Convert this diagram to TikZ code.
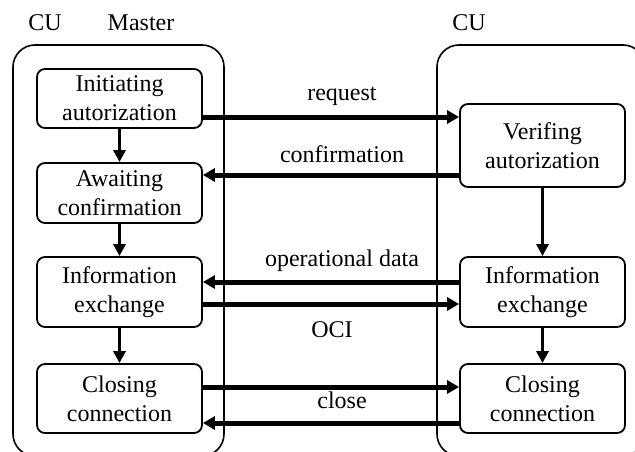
\documentclass[tikz,border=0pt]{standalone}
\usepackage{fontspec}
\setmainfont{Liberation Serif}
\usetikzlibrary{arrows.meta}
\begin{document}
\begin{tikzpicture}[x=1pt,y=-1pt,
  stbox/.style={draw, line width=1.8pt, rounded corners=8pt, minimum width=165pt,
    align=center, inner sep=0pt, font=\fontsize{24}{29}\selectfont},
  cont/.style={draw, line width=1.6pt, rounded corners=22pt},
  varrow/.style={line width=3pt, -{Triangle[length=12pt,width=12pt]}},
  harrow/.style={line width=5pt, -{Triangle[length=12pt,width=13pt]}},
  lbl/.style={anchor=base, inner sep=0pt, font=\fontsize{24}{29}\selectfont}
]
\useasboundingbox (0,0) rectangle (635,452);
\begin{scope}
  \clip (0,0) rectangle (635,452);
  \draw[cont] (13,45) rectangle (224,456);
  \draw[cont] (437,45) rectangle (645,456);
\end{scope}

\node[lbl] (cu1) at (45,31) {CU};
\node[lbl] (master) at (141,31) {Master};
\node[lbl] (cu2) at (469,31) {CU};

\node[stbox, minimum height=59pt] (L1) at (119.5,98.5) {Initiating\\autorization};
\node[stbox, minimum height=60pt] (L2) at (119.5,193) {Awaiting\\confirmation};
\node[stbox, minimum height=70pt] (L3) at (119.5,292) {Information\\exchange};
\node[stbox, minimum height=69pt] (L4) at (119.5,398.5) {Closing\\connection};

\node[stbox, minimum height=83pt] (R1) at (542.5,145.5) {Verifing\\autorization};
\node[stbox, minimum height=70pt] (R2) at (542.5,292) {Information\\exchange};
\node[stbox, minimum height=69pt] (R3) at (542.5,398.5) {Closing\\connection};

\draw[varrow] (L1.south) -- (L2.north);
\draw[varrow] (L2.south) -- (L3.north);
\draw[varrow] (L3.south) -- (L4.north);
\draw[varrow] (R1.south) -- (R2.north);
\draw[varrow] (R2.south) -- (R3.north);

\draw[harrow] (L1.east |- 0,117) -- (R1.west |- 0,117);
\draw[harrow] (R1.west |- 0,175) -- (L2.east |- 0,175);
\draw[harrow] (R2.west |- 0,282) -- (L3.east |- 0,282);
\draw[harrow] (L3.east |- 0,304) -- (R2.west |- 0,304);
\draw[harrow] (L4.east |- 0,387) -- (R3.west |- 0,387);
\draw[harrow] (R3.west |- 0,423) -- (L4.east |- 0,423);

\node[lbl] (lreq) at (342,101) {request};
\node[lbl] (lconf) at (342,162) {confirmation};
\node[lbl] (lop) at (342,266) {operational data};
\node[lbl] (loci) at (332,337) {OCI};
\node[lbl] (lclose) at (342,408) {close};
\end{tikzpicture}
\end{document}
